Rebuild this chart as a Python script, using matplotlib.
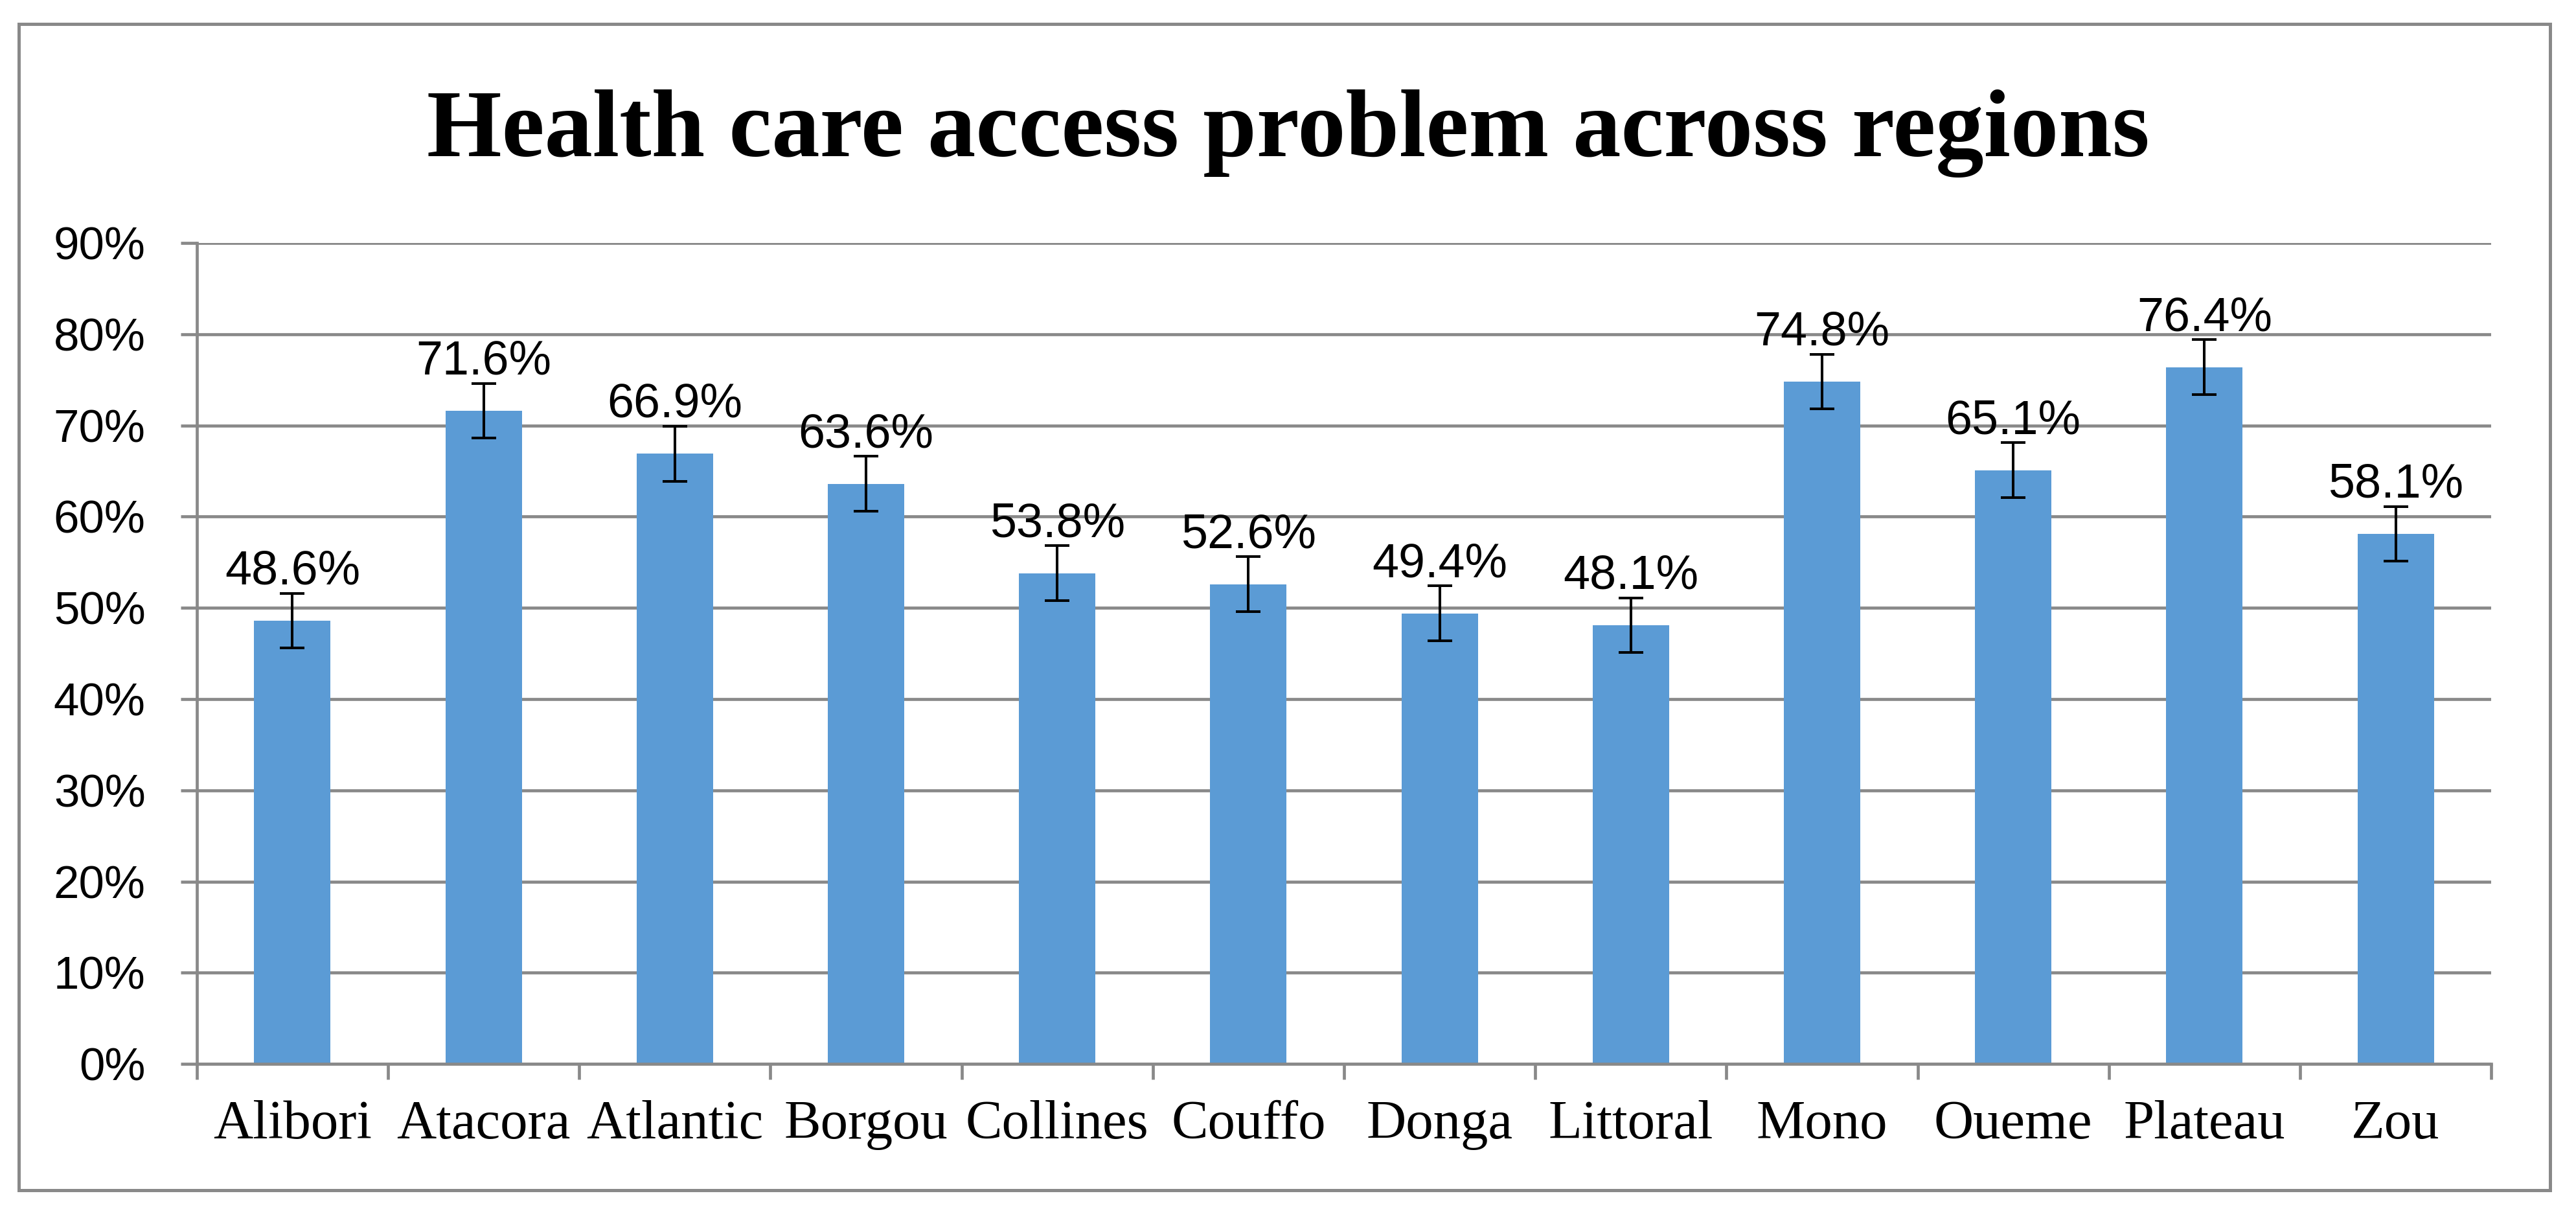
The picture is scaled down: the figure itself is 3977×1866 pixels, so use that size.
import matplotlib
matplotlib.use("Agg")
import matplotlib.pyplot as plt
from matplotlib.patches import Rectangle

# data
regions = ["Alibori", "Atacora", "Atlantic", "Borgou", "Collines", "Couffo",
           "Donga", "Littoral", "Mono", "Oueme", "Plateau", "Zou"]
values = [48.6, 71.6, 66.9, 63.6, 53.8, 52.6, 49.4, 48.1, 74.8, 65.1, 76.4, 58.1]
errors = [3.0, 3.0, 3.0, 3.0, 3.0, 3.0, 3.0, 3.0, 3.0, 3.0, 3.0, 3.0]
yticks = [0, 10, 20, 30, 40, 50, 60, 70, 80, 90]

grey = "#898989"
bar_color = "#5B9BD5"

fig = plt.figure(figsize=(39.77, 18.66), dpi=100)
ax = fig.add_axes([0.0764, 0.120, 0.8907, 0.679])

x = list(range(len(regions)))
ax.bar(x, values, width=0.40, color=bar_color, zorder=2)
ax.errorbar(x, values, yerr=errors, fmt="none", ecolor="black",
            elinewidth=2.9, capsize=13.5, capthick=2.9, zorder=3)

for xi, v in zip(x, values):
    ax.text(xi, v + 4.0, f"{v:.1f}%", ha="center", va="baseline",
            fontsize=53, family="Liberation Sans", zorder=4)

ax.set_xlim(-0.5, len(regions) - 0.5)
ax.set_ylim(0, 90)
ax.set_yticks(yticks)
ax.set_yticklabels([f"{t}%" for t in yticks], family="Liberation Sans", fontsize=51)
ax.yaxis.grid(True, color=grey, linewidth=3.4, zorder=0)
ax.set_axisbelow(True)

# category labels centred, tick marks on the boundaries
ax.set_xticks(x)
ax.set_xticklabels(regions, family="Liberation Serif", fontsize=61)
ax.set_xticks([i - 0.5 for i in range(len(regions) + 1)], minor=True)
ax.tick_params(axis="x", which="major", length=0, pad=40)
ax.tick_params(axis="x", which="minor", length=17, width=3.4, color=grey)
ax.tick_params(axis="y", length=18, width=3.4, color=grey, pad=39)

for side in ["top", "right"]:
    ax.spines[side].set_visible(False)
ax.spines["left"].set_color(grey)
ax.spines["left"].set_linewidth(3.4)
ax.spines["bottom"].set_color(grey)
ax.spines["bottom"].set_linewidth(3.4)

fig.text(0.5, 0.871, "Health care access problem across regions", ha="center",
         va="baseline", fontsize=107, fontweight="bold", family="Liberation Serif")

# outer chart border
fig.patches.append(Rectangle((0.0073, 0.0155), 0.9827, 0.9646, transform=fig.transFigure,
                             fill=False, edgecolor=grey, linewidth=3.6))

fig.savefig("out.png", dpi=100, facecolor="white")
